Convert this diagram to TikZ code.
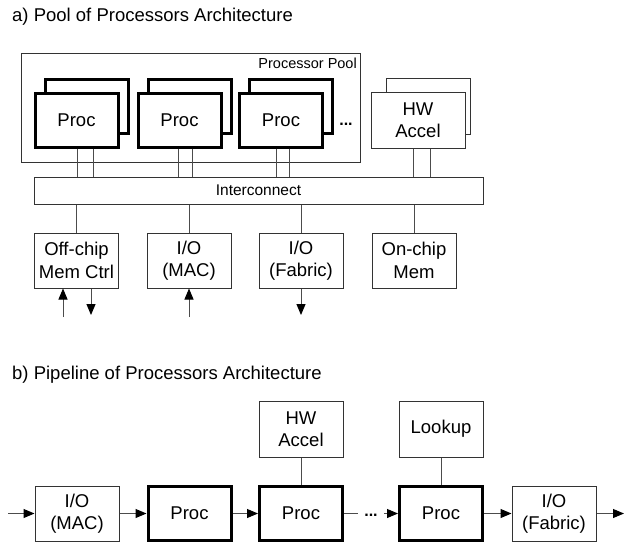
\documentclass[tikz,border=0pt]{standalone}
\usepackage{fontspec}
\setmainfont{Liberation Sans}
\usetikzlibrary{arrows.meta}

\begin{document}
\begin{tikzpicture}[x=1pt,y=-1pt,
  lbl/.style={font=\fontsize{18.5}{22.5}\selectfont},
  box/.style={lbl, draw=black!80, line width=1pt, fill=white, inner sep=0pt,
    align=center, minimum width=84pt, minimum height=55pt},
  procbox/.style={box, draw=black, line width=3pt, minimum width=83pt, minimum height=54pt},
  wire/.style={draw=black!70, line width=1pt},
  flow/.style={wire, -{Triangle[length=11pt,width=9pt,black]}},
  dots/.style={font=\fontsize{16}{20}\selectfont\bfseries, inner sep=0pt, anchor=base},
  heading/.style={font=\fontsize{18.5}{22.5}\selectfont, inner sep=0pt, anchor=base west},
]
\useasboundingbox (0,0) rectangle (630,542);

% ---------------- a) pool of processors ----------------
\node[heading] (titlea) at (12,21) {a) Pool of Processors Architecture};

\node[draw=black!80, line width=1pt, minimum width=339pt, minimum height=109pt, inner sep=0pt]
  (pool) at (190.5,107.5) {};
\node[font=\fontsize{14.5}{17}\selectfont, inner sep=0pt, anchor=east] (poollbl) at (357,63) {Processor Pool};

% stacked processors (back copy, then front copy)
\node[procbox] (pa1b) at (86.5,106) {};
\node[procbox] (pa1)  at (76.5,120) {Proc};
\node[procbox] (pa2b) at (189.5,106) {};
\node[procbox] (pa2)  at (179.5,120) {Proc};
\node[procbox] (pa3b) at (291,106) {};
\node[procbox] (pa3)  at (281,120) {Proc};
\node[dots] (dotsa) at (346,125) {...};

% hardware accelerator stack
\node[box, minimum width=84pt, minimum height=56pt] (hwab) at (428,106) {};
\node[box, minimum width=94pt, minimum height=56pt] (hwa) at (418,120) {HW\\Accel};

% interconnect bus
\node[draw=black!80, line width=1pt, minimum width=449pt, minimum height=27pt, inner sep=0pt,
  font=\fontsize{15.5}{18}\selectfont] (ic) at (258.5,190.5) {Interconnect};

% links into the interconnect
\foreach \n/\a/\b in {pa1/0.5/16.5, pa2/-1.5/12.5, pa3/-5/8, hwa/-5/12} {
  \draw[wire] ([xshift=\a]\n.south) -- ([xshift=\a]\n.south |- ic.north);
  \draw[wire] ([xshift=\b]\n.south) -- ([xshift=\b]\n.south |- ic.north);
}

% peripherals below the bus
\node[box] (offchip) at (76.5,260.5) {Off-chip\\Mem Ctrl};
\node[box] (iomaca)  at (189,260.5)  {I/O\\(MAC)};
\node[box] (iofaba)  at (301,260.5)  {I/O\\(Fabric)};
\node[box] (onchip)  at (414,260.5)  {On-chip\\Mem};

\foreach \n in {offchip, iomaca, iofaba, onchip}
  \draw[wire] (\n.north) -- (\n.north |- ic.south);

% external ports
\coordinate (offin)  at (63,317);
\coordinate (offout) at (91,315);
\coordinate (macin)  at (189,317);
\coordinate (fabout) at (301,315);
\draw[flow] (offin) -- (offin |- offchip.south);
\draw[flow] (offout |- offchip.south) -- (offout);
\draw[flow] (macin) -- (iomaca.south);
\draw[flow] (iofaba.south) -- (fabout);

% ---------------- b) pipeline of processors ----------------
\node[heading] (titleb) at (12,379) {b) Pipeline of Processors Architecture};

\node[box] (iomacb) at (77,513.5) {I/O\\(MAC)};
\node[procbox] (pb1) at (189.5,513.5) {Proc};
\node[procbox] (pb2) at (301,513.5) {Proc};
\node[procbox] (pb3) at (441,513.5) {Proc};
\node[box] (iofabb) at (554,513.5) {I/O\\(Fabric)};

\node[box, minimum height=56pt] (hwb) at (301,429) {HW\\Accel};
\node[box, minimum height=56pt] (lookup) at (441,429) {Lookup};

\draw[wire] (hwb.south) -- (pb2.north);
\draw[wire] (lookup.south) -- (pb3.north);

\coordinate (pin) at (8,513.5);
\coordinate (pout) at (624,513.5);
\coordinate (gapa) at (358,513.5);
\coordinate (gapb) at (384,513.5);
\node[dots] (dotsb) at (371,516) {...};

\draw[flow] (pin) -- (iomacb.west);
\draw[flow] (iomacb.east) -- (pb1.west);
\draw[flow] (pb1.east) -- (pb2.west);
\draw[wire] (pb2.east) -- (gapa);
\draw[flow] (gapb) -- (pb3.west);
\draw[flow] (pb3.east) -- (iofabb.west);
\draw[flow] (iofabb.east) -- (pout);
\end{tikzpicture}
\end{document}
